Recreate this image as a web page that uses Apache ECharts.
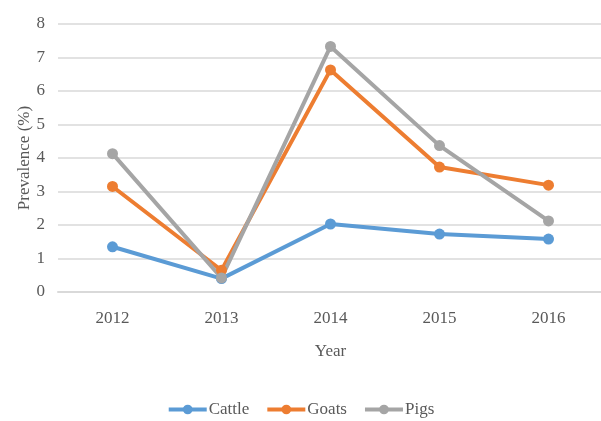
<!DOCTYPE html>
<html>
<head>
<meta charset="UTF-8">
<script src="https://cdn.jsdelivr.net/npm/echarts@6/dist/echarts.min.js"></script>
<style>
  html, body { margin: 0; padding: 0; background: #fff; }
  #main { width: 601px; height: 421px; }
</style>
</head>
<body>
<div id="main"></div>
<script>
// chart data
var years = ['2012', '2013', '2014', '2015', '2016'];
var cattle = [1.35, 0.4, 2.03, 1.73, 1.58];
var goats = [3.15, 0.65, 6.63, 3.73, 3.19];
var pigs = [4.13, 0.42, 7.33, 4.37, 2.12];

var textColor = '#595959';
var font = 'Liberation Serif';

function line(name, data, color) {
    return {
        name: name,
        type: 'line',
        data: data,
        symbol: 'circle',
        symbolSize: 11,
        itemStyle: { color: color },
        lineStyle: { width: 4, color: color }
    };
}

var chart = echarts.init(document.getElementById('main'));
chart.setOption({
    animation: false,
    textStyle: { fontFamily: font, color: textColor },
    grid: { left: 58, right: -2, top: 24, bottom: 129, outerBoundsMode: 'none' },
    legend: {
        top: 396,
        left: 'center',
        itemWidth: 38,
        itemHeight: 12,
        itemGap: 16,
        lineStyle: { width: 4 },
        textStyle: { fontFamily: font, fontSize: 17, color: textColor, padding: [0, 0, 0, -3] },
        data: ['Cattle', 'Goats', 'Pigs']
    },
    xAxis: {
        type: 'category',
        data: years,
        name: 'Year',
        nameLocation: 'middle',
        nameGap: 51,
        nameTextStyle: { fontFamily: font, fontSize: 17, color: textColor },
        axisLine: { lineStyle: { color: '#d9d9d9', width: 2 } },
        axisTick: { show: false },
        axisLabel: { fontFamily: font, fontSize: 17, color: textColor, margin: 18 }
    },
    yAxis: {
        type: 'value',
        min: 0,
        max: 8,
        interval: 1,
        name: 'Prevalence (%)',
        nameLocation: 'middle',
        nameGap: 25,
        nameMoveOverlap: false,
        nameTextStyle: { fontFamily: font, fontSize: 17, color: textColor },
        axisLine: { show: false },
        axisTick: { show: false },
        axisLabel: { fontFamily: font, fontSize: 17, color: textColor, margin: 13 },
        splitLine: { lineStyle: { color: '#d9d9d9', width: 1.5 } }
    },
    series: [
        line('Cattle', cattle, '#5B9BD5'),
        line('Goats', goats, '#ED7D31'),
        line('Pigs', pigs, '#A5A5A5')
    ]
});
</script>
</body>
</html>
